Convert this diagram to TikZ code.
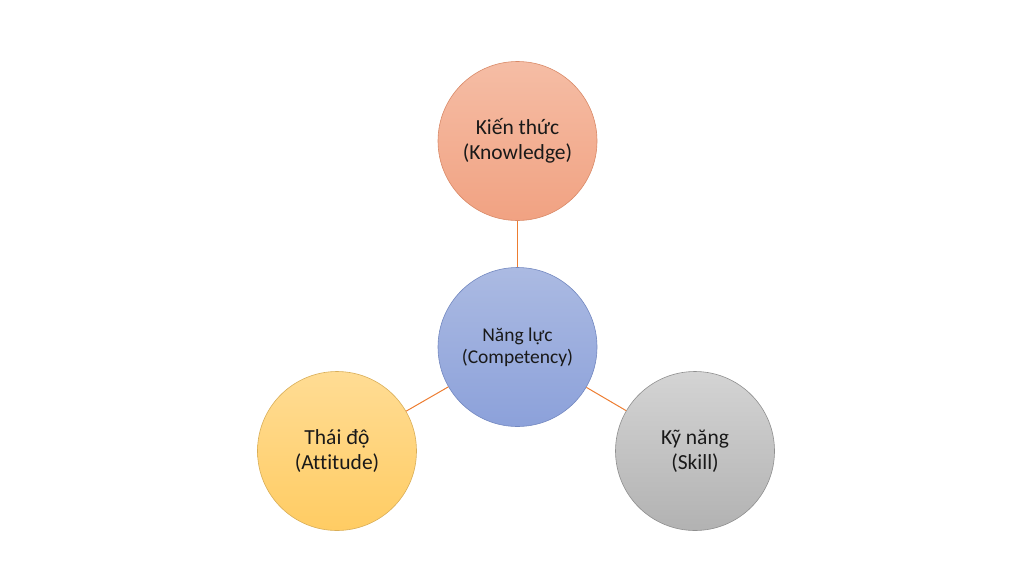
\documentclass[tikz,border=0pt]{standalone}
\usepackage{fontspec}
\setmainfont[Ligatures={NoCommon}]{Carlito}
\definecolor{linkc}{HTML}{ED7D31}
\definecolor{orT}{HTML}{F5BDA5}
\definecolor{orB}{HTML}{F1A282}
\definecolor{orD}{HTML}{D98A68}
\definecolor{blT}{HTML}{ABBAE2}
\definecolor{blB}{HTML}{8CA1DA}
\definecolor{blD}{HTML}{7388C0}
\definecolor{yeT}{HTML}{FFDC94}
\definecolor{yeB}{HTML}{FFCC63}
\definecolor{yeD}{HTML}{D9AE58}
\definecolor{grT}{HTML}{D4D4D4}
\definecolor{grB}{HTML}{B2B2B2}
\definecolor{grD}{HTML}{8F8F8F}
\tikzset{
  bubble/.style={circle, minimum size=159pt, inner sep=0pt, align=center, line width=0.6pt, font=\fontsize{21.5}{25}\selectfont, text=black!90},
  midbubble/.style={bubble, font=\fontsize{19.5}{22}\selectfont},
  link/.style={draw=linkc, line width=1pt}
}
\begin{document}
\begin{tikzpicture}[x=1pt,y=-1pt]
\useasboundingbox (0,0) rectangle (1024,576);
\node[bubble, draw=orD, top color=orT, bottom color=orB] (know) at (517.5,141) {Kiến thức\\(Knowledge)};
\node[midbubble, draw=blD, top color=blT, bottom color=blB] (comp) at (517.5,347) {Năng lực\\(Competency)};
\node[bubble, draw=yeD, top color=yeT, bottom color=yeB] (att) at (337,451) {Thái độ\\(Attitude)};
\node[bubble, draw=grD, top color=grT, bottom color=grB] (skill) at (695,451) {Kỹ năng\\(Skill)};
\draw[link, line width=1.4pt] (know.south) -- (comp.north);
\draw[link] (comp) -- (att);
\draw[link] (comp) -- (skill);
\end{tikzpicture}
\end{document}
